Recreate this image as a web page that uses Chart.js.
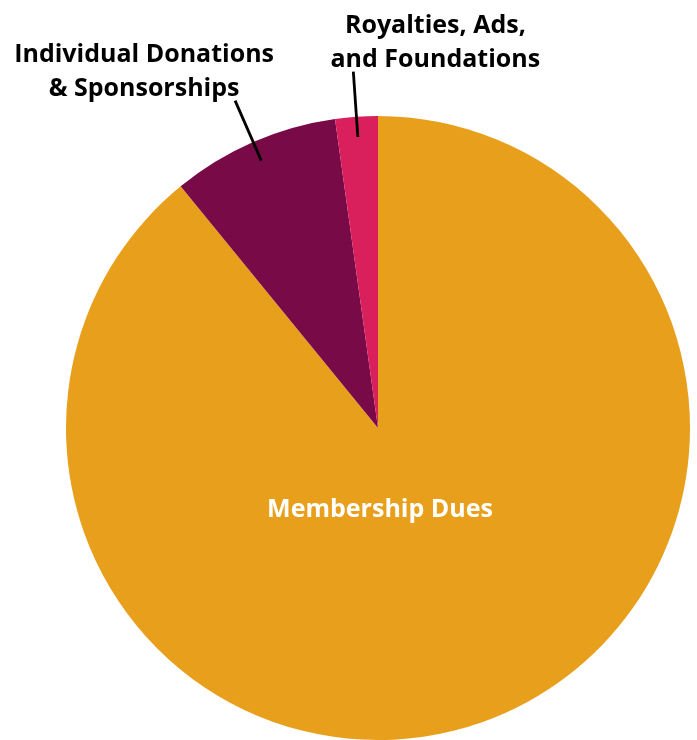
<!DOCTYPE html>
<html>
<head>
<meta charset="utf-8">
<script src="https://cdn.jsdelivr.net/npm/chart.js@4"></script>
<style>
  html, body { margin: 0; padding: 0; background: #fff; }
  #wrap { width: 697px; height: 740px; }
</style>
</head>
<body>
<div id="wrap"><canvas id="pieChart" width="697" height="740"></canvas></div>
<script>
// data (share of revenue, %)
var categories = ["Membership Dues", "Individual Donations & Sponsorships", "Royalties, Ads, and Foundations"]
var shares = [89.1, 8.7, 2.2]
var label_lines = [["Membership Dues"], ["Individual Donations", "& Sponsorships"], ["Royalties, Ads,", "and Foundations"]]
var slice_colors = ["#E89F1B", "#780A48", "#D91F5C"]

var FONT = "bold 25px 'Open Sans', sans-serif"

// draws the labels; inside label for the big slice, leader lines for the small ones
var pieLabels = {
  id: "pieLabels",
  afterDraw: function (chart) {
    var c = chart.ctx
    var arcs = chart.getDatasetMeta(0).data
    c.save()
    c.font = FONT
    c.textAlign = "center"
    c.textBaseline = "alphabetic"
    arcs.forEach(function (arc, i) {
      var r = arc.outerRadius
      var lines = label_lines[i]
      if (i === 0) {
        c.fillStyle = "#fff"
        c.fillText(lines[0], arc.x + 2, arc.y + r * 0.285)
        return
      }
      var mid = (arc.startAngle + arc.endAngle) / 2
      var x1 = arc.x + Math.cos(mid) * r * 0.935
      var y1 = arc.y + Math.sin(mid) * r * 0.935
      var x2 = arc.x + Math.cos(mid) * r * 1.145
      var y2 = arc.y + Math.sin(mid) * r * 1.145
      c.strokeStyle = "#000"
      c.lineWidth = 2.8
      c.beginPath()
      c.moveTo(x1, y1)
      c.lineTo(x2, y2)
      c.stroke()
      // text block sits above the outer end of the line
      var dx = i === 1 ? -91 : 82
      c.fillStyle = "#000"
      c.fillText(lines[0], x2 + dx, y2 - 39)
      c.fillText(lines[1], x2 + dx, y2 - 5)
    })
    c.restore()
  },
}

var ctx = document.getElementById("pieChart")
var chart_pie = new Chart(ctx, {
  type: "pie",
  plugins: [pieLabels],
  data: {
    labels: categories,
    datasets: [
      {
        data: shares,
        backgroundColor: slice_colors,
        borderWidth: 0,
      },
    ],
  },
  options: {
    responsive: false,
    animation: false,
    layout: {
      padding: { left: 66, right: 7, top: 116, bottom: 0 },
    },
    plugins: {
      legend: { display: false },
      tooltip: { enabled: false },
    },
  },
})
</script>
</body>
</html>
